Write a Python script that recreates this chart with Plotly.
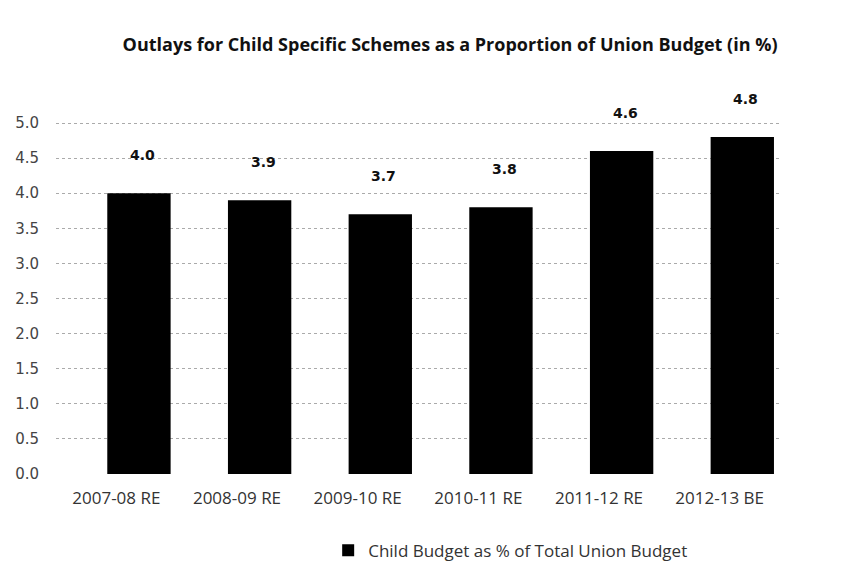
import plotly.graph_objects as go

categories = ["2007-08 RE", "2008-09 RE", "2009-10 RE", "2010-11 RE", "2011-12 RE", "2012-13 BE"]
values = [4.0, 3.9, 3.7, 3.8, 4.6, 4.8]
value_labels = ["4.0", "3.9", "3.7", "3.8", "4.6", "4.8"]
series_name = "Child Budget as % of Total Union Budget"
y_ticks = [0.0, 0.5, 1.0, 1.5, 2.0, 2.5, 3.0, 3.5, 4.0, 4.5, 5.0]
y_tick_labels = ["0.0", "0.5", "1.0", "1.5", "2.0", "2.5", "3.0", "3.5", "4.0", "4.5", "5.0"]

fig = go.Figure()
fig.add_trace(go.Bar(
    x=categories, y=values, name=series_name,
    marker=dict(color="#000000", line=dict(width=0)),
    width=0.525, offset=-0.075,
    showlegend=True,
))

for c, v, t in zip(categories, values, value_labels):
    fig.add_annotation(x=c, y=v, text="<b>%s</b>" % t, showarrow=False,
                       yanchor="bottom", xanchor="center", xshift=26, yshift=28,
                       font=dict(family="DejaVu Sans", size=14, color="#111111"))

fig.update_layout(
    width=854, height=561,
    paper_bgcolor="white", plot_bgcolor="white",
    margin=dict(l=56, r=74, t=109, b=87, autoexpand=False),
    title=dict(text="<b>Outlays for Child Specific Schemes as a Proportion of Union Budget (in %)</b>",
               x=0.527, xanchor="center", y=1 - 45 / 561, yanchor="middle",
               font=dict(family="Open Sans", size=18, color="#111111")),
    xaxis=dict(range=[-0.5, 5.5], showgrid=False, showline=False, zeroline=False, ticks="",
               ticklabelstandoff=12, automargin=False,
               tickfont=dict(family="Open Sans", size=17, color="#333333")),
    yaxis=dict(range=[0, 5.2], tickvals=y_ticks, ticktext=y_tick_labels,
               showgrid=True, gridcolor="#aaaaaa", griddash="dot", gridwidth=1,
               zeroline=False, showline=False, ticks="", ticklabelstandoff=16, automargin=False,
               tickfont=dict(family="DejaVu Sans", size=15, color="#444444")),
    legend=dict(orientation="h", x=0.628, xanchor="center", y=-0.21, yanchor="middle",
                font=dict(family="Open Sans", size=17, color="#333333"),
                itemwidth=30, bgcolor="rgba(0,0,0,0)"),
    bargap=0.4,
)

fig.write_html("out.html")
